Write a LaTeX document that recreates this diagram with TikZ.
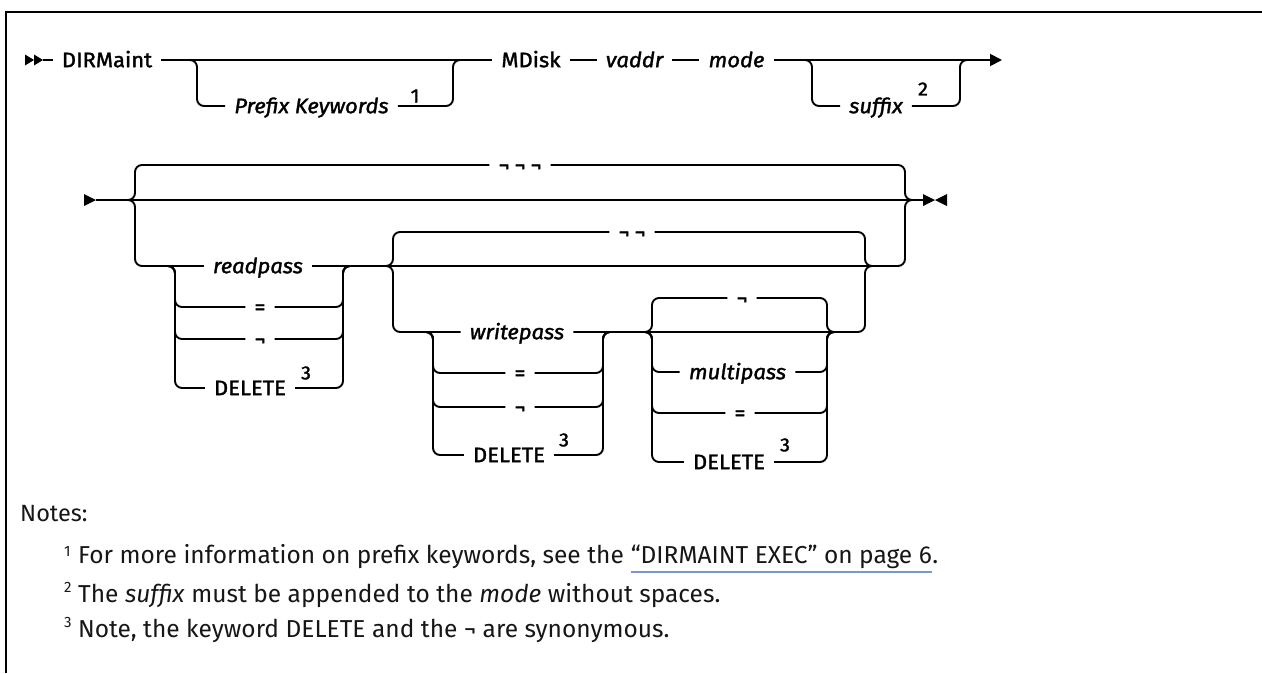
\documentclass[tikz,border=0pt]{standalone}
\usepackage{fontspec}
\setmainfont{Fira Sans}
\newfontfamily\dfont[FakeStretch=1.05,FakeBold=1.5]{Fira Sans}
\newfontfamily\nfont{Fira Sans}
\usetikzlibrary{calc,arrows.meta}
\definecolor{ink}{RGB}{0,0,0}
\definecolor{notec}{RGB}{22,22,22}
\definecolor{linkc}{RGB}{120,150,210}
\tikzset{
  rail/.style={line width=1.9pt, rounded corners=7pt, draw=ink},
  boxframe/.style={line width=2pt, draw=ink},
  lbl/.style={font=\dfont\fontsize{21}{24}\selectfont, text=ink, text height=14.4pt, text depth=0pt, inner xsep=9pt, inner ysep=0pt},
  ilbl/.style={lbl, font=\dfont\itshape\fontsize{21}{24}\selectfont},
  supn/.style={font=\dfont\fontsize{19}{22}\selectfont, text=ink, inner sep=0pt},
  notetxt/.style={font=\nfont\fontsize{24.5}{28}\selectfont, text=notec, inner sep=0pt, anchor=base west},
  notesup/.style={font=\nfont\fontsize{15}{18}\selectfont, text=notec, inner sep=0pt, anchor=base west},
}
\begin{document}
\begin{tikzpicture}[x=1pt,y=-1pt]
\useasboundingbox (0,0) rectangle (1262,673);
\draw[boxframe] (6,673) -- (6,12) -- (1262,12);

% ---------- row 1
\fill[ink] (25,54.5) -- (34,60) -- (25,65.5) -- cycle;
\fill[ink] (34,54.5) -- (43,60) -- (34,65.5) -- cycle;
\coordinate (st1) at (43,60);
\node[lbl] (dir) at (107,60) {DIRMaint};
\draw[rail] (st1) -- (dir.west);
\node[ilbl] (pk) at (311.5,106) {Prefix Keywords};
\node[supn] (n1) at (415,96) {1};
\node[lbl] (md) at (531,60) {MDisk};
\node[ilbl] (va) at (634.5,60) {vaddr};
\node[ilbl] (mo) at (736.5,60) {mode};
\node[ilbl] (sf) at (876,106) {suffix};
\node[supn] (n2) at (923,89) {2};
\coordinate (a1) at (197,60);
\coordinate (b1) at (453,60);
\coordinate (a2) at (812,60);
\coordinate (b2) at (960,60);
\coordinate (e1) at (1002,60);
\draw[rail] (dir.east) -- (md.west);
\draw[rail] ($(a1)+(-9,0)$) -- (a1) |- (pk.west);
\draw[rail] (pk.east) -| (b1) -- ++(9,0);
\draw[rail] (md.east) -- (va.west);
\draw[rail] (va.east) -- (mo.west);
\draw[rail,-{Triangle[length=12pt,width=12pt]}] (mo.east) -- (e1);
\draw[rail] ($(a2)+(-9,0)$) -- (a2) |- (sf.west);
\draw[rail] (sf.east) -| (b2) -- ++(9,0);

% ---------- row 2
\fill[ink] (84,194) -- (96,200) -- (84,206) -- cycle;
\coordinate (st2) at (96,200);
\coordinate (L1) at (135,200);
\coordinate (R1) at (905,200);
\coordinate (en) at (923,200);
\fill[ink] (923,194) -- (935,200) -- (923,206) -- cycle;
\fill[ink] (947,194) -- (935,200) -- (947,206) -- cycle;
\draw[rail] (st2) -- (en);
\node[lbl] (t3) at (520,165) {¬\kern5pt¬\kern5pt¬};
\draw[rail] ($(L1)+(-9,0)$) -- (L1) |- (t3.west);
\draw[rail] (t3.east) -| (R1) -- ++(9,0);
\node[ilbl] (rp) at (258,266) {readpass};
\draw[rail] ($(L1)+(-9,0)$) -- (L1) |- (rp.west);
\draw[rail] (rp.east) -| (R1) -- ++(9,0);

% level 2
\coordinate (L2) at (393,266);
\coordinate (R2) at (865,266);
\node[lbl] (t2) at (632,232) {¬\kern5pt¬};
\draw[rail] ($(L2)+(-9,0)$) -- (L2) |- (t2.west);
\draw[rail] (t2.east) -| (R2) -- ++(9,0);
\node[ilbl] (wp) at (517,332) {writepass};
\draw[rail] ($(L2)+(-9,0)$) -- (L2) |- (wp.west);
\draw[rail] (wp.east) -| (R2) -- ++(9,0);

% readpass stack
\coordinate (L4) at (175,266);
\coordinate (R4) at (343,266);
\node[lbl] (e1n) at (260,307) {=};
\node[lbl] (k1) at (260,339) {¬};
\node[lbl] (d1) at (250,388) {DELETE};
\node[supn] (n3a) at (306,373) {3};
\foreach \r in {e1n,k1,d1}{
  \draw[rail] ($(L4)+(-9,0)$) -- (L4) |- (\r.west);
  \draw[rail] (\r.east) -| (R4) -- ++(9,0);
}

% writepass stack
\coordinate (L5) at (433,332);
\coordinate (R5) at (603,332);
\node[lbl] (e2n) at (520,373) {=};
\node[lbl] (k2) at (520,407) {¬};
\node[lbl] (d2) at (509,455) {DELETE};
\node[supn] (n3b) at (564,440) {3};
\foreach \r in {e2n,k2,d2}{
  \draw[rail] ($(L5)+(-9,0)$) -- (L5) |- (\r.west);
  \draw[rail] (\r.east) -| (R5) -- ++(9,0);
}

% multipass group
\coordinate (L3) at (652,332);
\coordinate (R3) at (827,332);
\node[lbl] (t1) at (742,298) {¬};
\node[ilbl] (mp) at (737.5,372) {multipass};
\node[lbl] (e3n) at (740,413) {=};
\node[lbl] (d3) at (729,462) {DELETE};
\node[supn] (n3c) at (785,445) {3};
\foreach \r in {t1,mp,e3n,d3}{
  \draw[rail] ($(L3)+(-9,0)$) -- (L3) |- (\r.west);
  \draw[rail] (\r.east) -| (R3) -- ++(9,0);
}

% ---------- notes
\node[notetxt, font=\nfont\fontsize{23.5}{28}\selectfont] (notes) at (20,521) {Notes:};
\node[notesup] (ns1) at (64,556) {1};
\node[notetxt] (nl1a) at (78,563) {For more information on prefix keywords, see the};
\node[notetxt] (nl1b) at ($(nl1a.base east)+(6.5,0)$) {“DIRMAINT EXEC” on page 6};
\node[notetxt] (nl1c) at (nl1b.base east) {.};
\draw[linkc, line width=1.3pt] ($(nl1b.base west)+(0,9)$) -- ($(nl1b.base east)+(0,9)$);
\node[notesup] (ns2) at (64,592) {2};
\node[notetxt] (nl2) at (78,602) {The \textit{suffix} must be appended to the \textit{mode} without spaces.};
\node[notesup] (ns3) at (64,627) {3};
\node[notetxt] (nl3) at (78,637) {Note, the keyword DELETE and the ¬ are synonymous.};
\end{tikzpicture}
\end{document}
